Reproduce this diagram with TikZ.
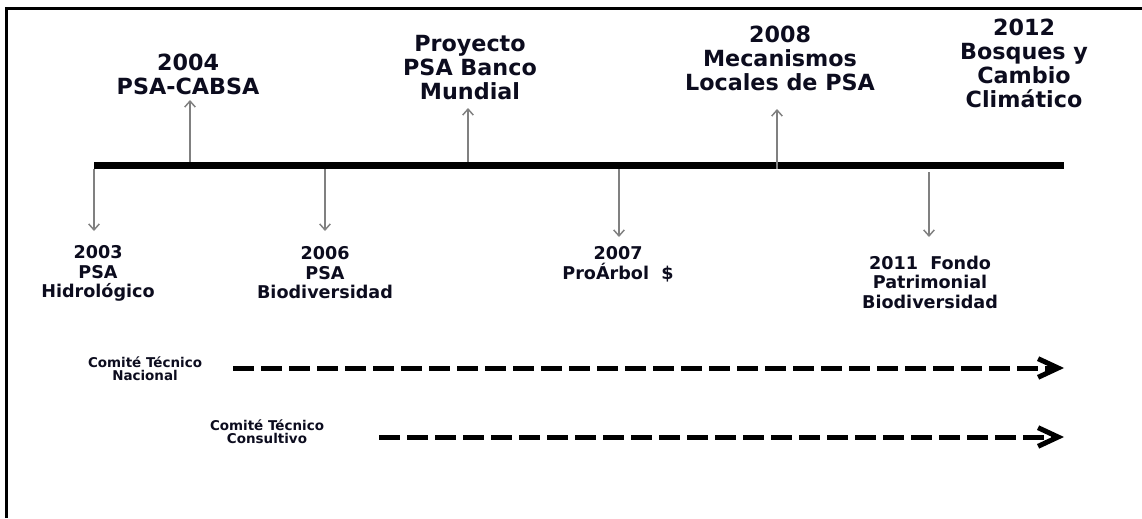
\documentclass[tikz,border=0pt]{standalone}
\usepackage{fontspec}
\setmainfont{DejaVu Sans}
\usetikzlibrary{arrows.meta}
\definecolor{tickgray}{RGB}{128,128,128}
\definecolor{txt}{RGB}{12,12,30}
\begin{document}
\begin{tikzpicture}[x=0.75pt,y=-0.75pt,
  toplabel/.style={font=\bfseries\fontsize{16.7}{18}\selectfont, text=txt, align=center, anchor=north, inner sep=0pt},
  botlabel/.style={font=\bfseries\fontsize{13.2}{14.4}\selectfont, text=txt, align=center, anchor=north, inner sep=0pt},
  comlabel/.style={font=\bfseries\fontsize{10.1}{9.75}\selectfont, text=txt, align=center, inner sep=0pt},
  tick/.style={draw=tickgray, line width=1.1pt, -{Straight Barb[length=4.5pt,width=8pt]}},
  barline/.style={line width=5.25pt},
  period/.style={line width=3.75pt, dash pattern=on 15.75pt off 5.25pt, -{Straight Barb[length=15pt,width=14pt]}}
]
\useasboundingbox (0,0) rectangle (1142,518);
% frame (only top and left edges visible)
\draw[line width=2.25pt] (6.5,518) -- (6.5,8) -- (1142,8);

% timeline bar
\coordinate (tlstart) at (94,165.5);
\coordinate (tlend) at (1064,165.5);
\draw[barline] (tlstart) -- (tlend);

% top labels
\node[toplabel] (l2004) at (188,54) {2004\\PSA-CABSA};
\node[toplabel] (lbm) at (470,35) {Proyecto\\PSA Banco\\Mundial};
\node[toplabel] (l2008) at (780,26) {2008\\Mecanismos\\Locales de PSA};
\node[toplabel] (l2012) at (1024,19) {2012\\Bosques y\\Cambio\\Climático};

% bottom labels
\node[botlabel] (l2003) at (98,245.5) {2003\\PSA\\Hidrológico};
\node[botlabel] (l2006) at (325,246.5) {2006\\PSA\\Biodiversidad};
\node[botlabel] (l2007) at (618,246.5) {2007\\ProÁrbol\ \ \$};
\node[botlabel] (l2011) at (930,256) {2011\ \ Fondo\\Patrimonial\\Biodiversidad};

% up ticks
\coordinate (u2004a) at (190,162); \coordinate (u2004b) at (190,100);
\coordinate (ubma) at (468,162);   \coordinate (ubmb) at (468,108);
\coordinate (u2008a) at (777,169); \coordinate (u2008b) at (777,109);
\draw[tick] (u2004a) -- (u2004b);
\draw[tick] (ubma) -- (ubmb);
\draw[tick] (u2008a) -- (u2008b);

% down ticks
\coordinate (d2003a) at (94,169);  \coordinate (d2003b) at (94,231);
\coordinate (d2006a) at (325,169); \coordinate (d2006b) at (325,231);
\coordinate (d2007a) at (619,169); \coordinate (d2007b) at (619,237);
\coordinate (d2011a) at (929,172); \coordinate (d2011b) at (929,237);
\draw[tick] (d2003a) -- (d2003b);
\draw[tick] (d2006a) -- (d2006b);
\draw[tick] (d2007a) -- (d2007b);
\draw[tick] (d2011a) -- (d2011b);

% committees
\node[comlabel] (ctn) at (145,369) {Comité Técnico\\Nacional};
\node[comlabel] (ctc) at (267,432) {Comité Técnico\\Consultivo};
\coordinate (p1s) at (233,368); \coordinate (p1e) at (1064,368);
\coordinate (p2s) at (379,437); \coordinate (p2e) at (1064,437);
\draw[period] (p1s) -- (p1e);
\draw[period] (p2s) -- (p2e);
\end{tikzpicture}
\end{document}
